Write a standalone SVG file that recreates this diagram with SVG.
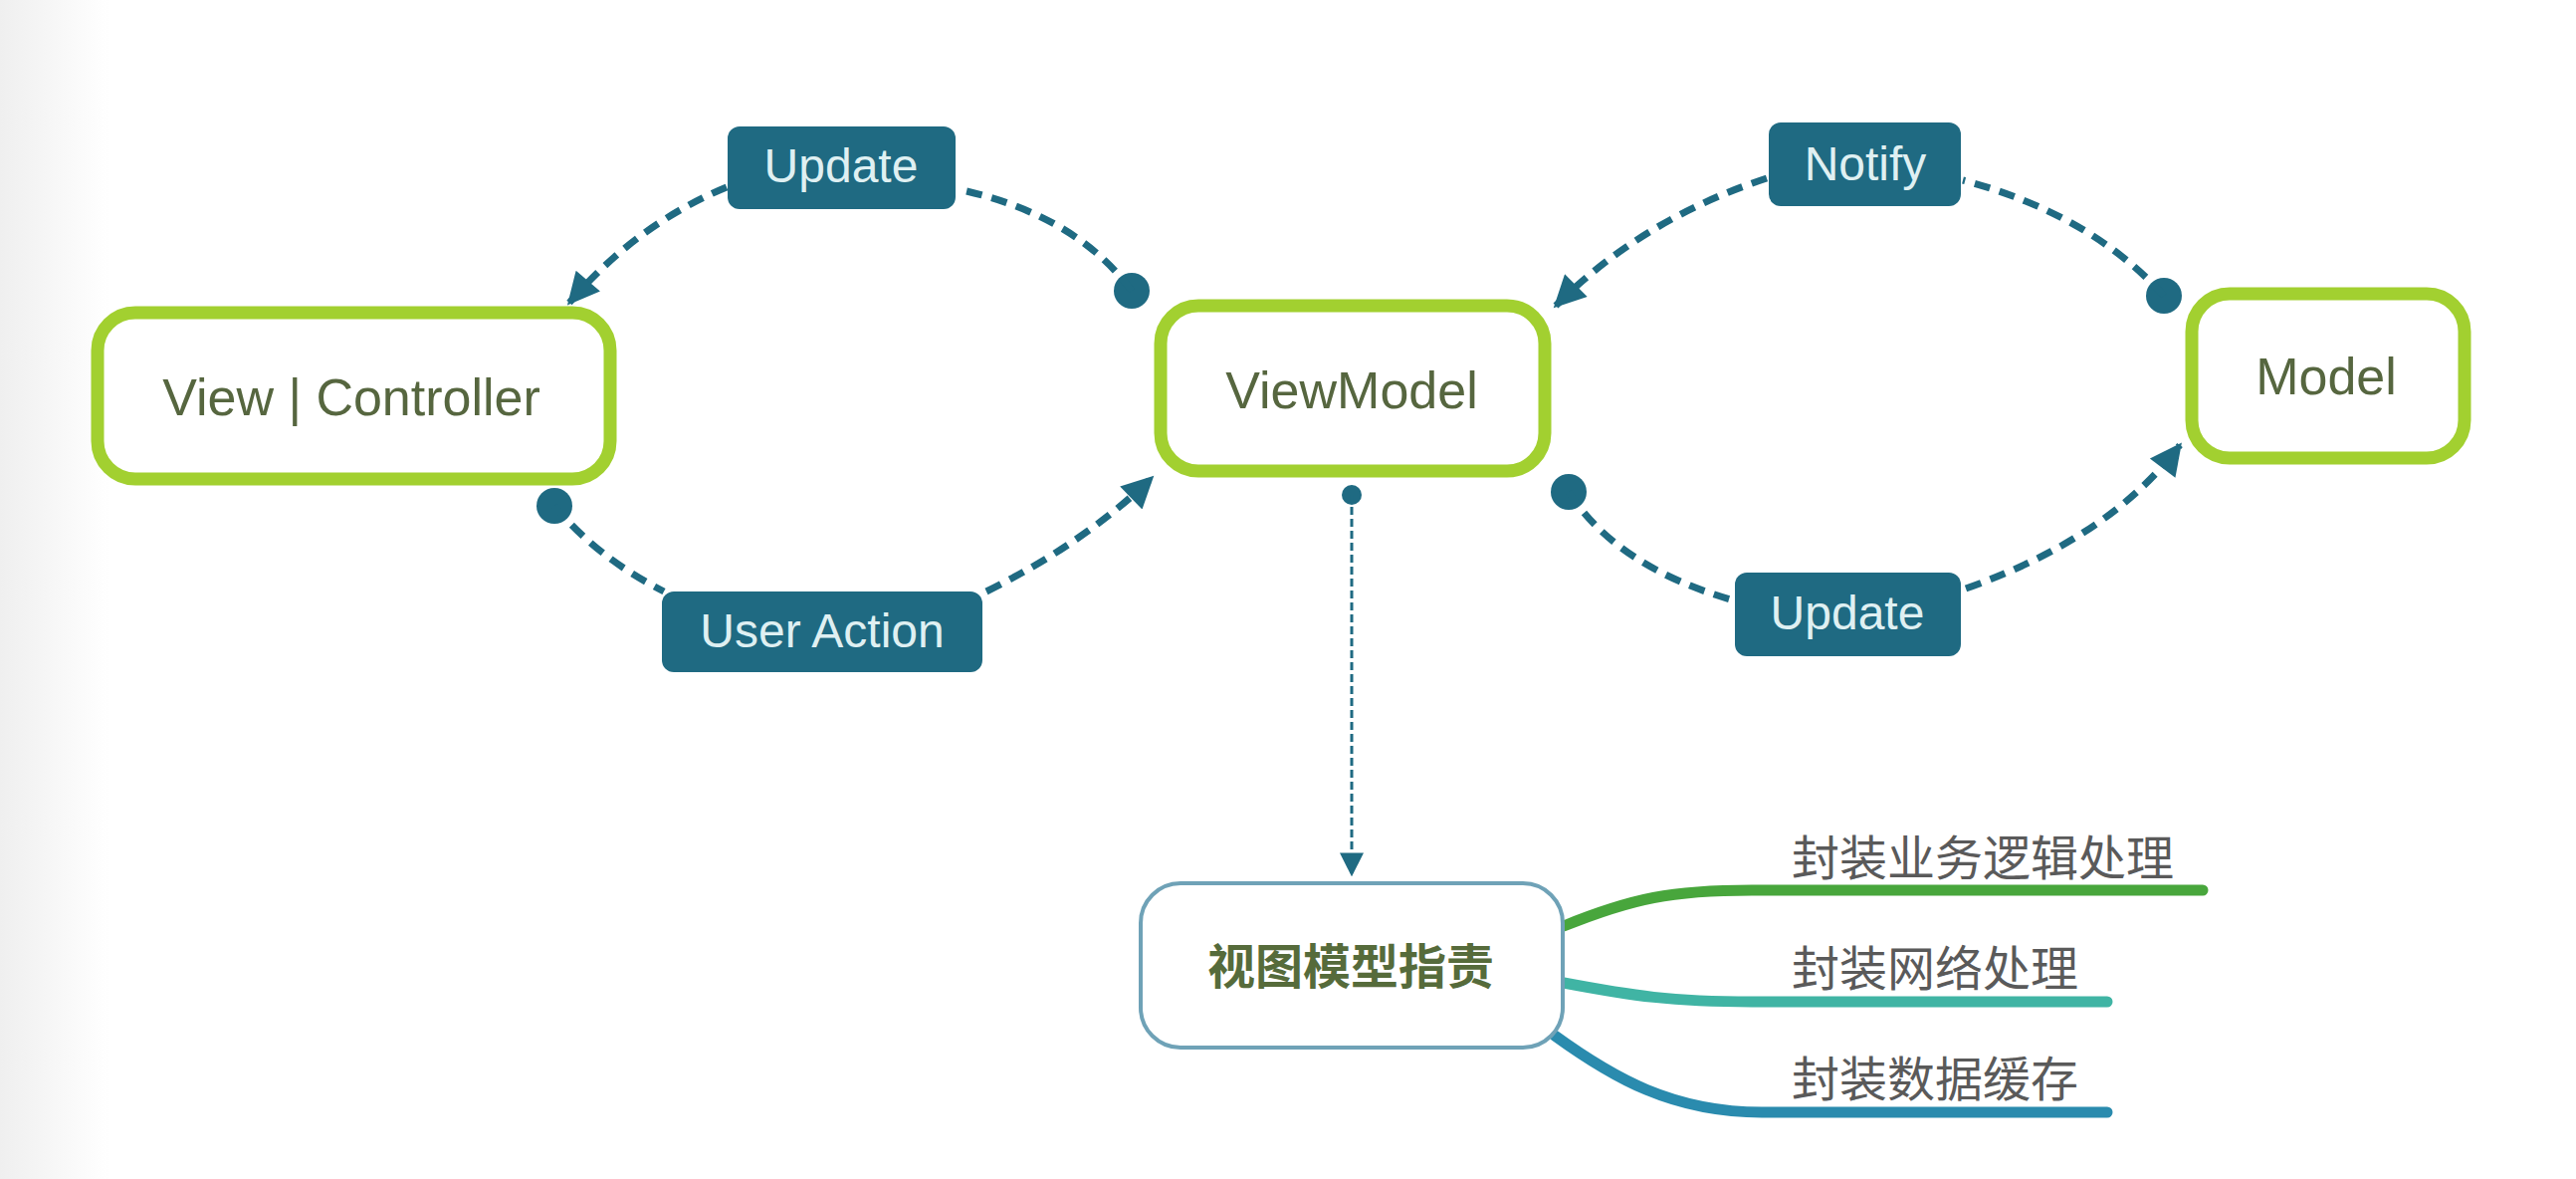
<svg xmlns="http://www.w3.org/2000/svg" width="2588" height="1184" viewBox="0 0 2588 1184">
  <defs>
    <linearGradient id="edge" x1="0" y1="0" x2="1" y2="0">
      <stop offset="0" stop-color="#efefef"/>
      <stop offset="1" stop-color="#ffffff"/>
    </linearGradient>
    <marker id="arrow" viewBox="0 0 10 10" refX="9" refY="5" markerWidth="36" markerHeight="32" markerUnits="userSpaceOnUse" orient="auto">
      <path d="M0,0 L10,5 L0,10 Z" fill="#1f6a82"/>
    </marker>
    <marker id="arrowSmall" viewBox="0 0 10 10" refX="9" refY="5" markerWidth="24" markerHeight="28" markerUnits="userSpaceOnUse" orient="auto">
      <path d="M0,0 L10,5 L0,10 Z" fill="#1f6a82"/>
    </marker>
    <style>
      .node { fill: #ffffff; stroke: #a2d030; stroke-width: 13; }
      .nodeText { font-family: "Liberation Sans", Arial, sans-serif; font-size: 52px; fill: #56663f; text-anchor: middle; }
      .label { fill: #1f6a82; }
      .labelText { font-family: "Liberation Sans", Arial, sans-serif; font-size: 48px; fill: #dff0f2; text-anchor: middle; }
      .conn { fill: none; stroke: #1f6a82; stroke-width: 7; stroke-dasharray: 16 10; }
      .dot { fill: #1f6a82; }
      .cjk { font-family: "Noto Sans CJK SC", "Noto Sans CJK TC", sans-serif; font-size: 48px; fill: #5a5a5a; }
      .branch { fill: none; stroke-width: 11; stroke-linecap: round; }
    </style>
  </defs>

  <rect x="0" y="0" width="2588" height="1184" fill="#ffffff"/>
  <rect x="0" y="0" width="110" height="1184" fill="url(#edge)"/>

  <g id="connectors">
    <!-- ViewModel -> View|Controller (Update) -->
    <circle class="dot" cx="1137" cy="292" r="18"/>
    <path class="conn" d="M1137,292 Q1080,215 962,190"/>
    <path class="conn" d="M730,188 Q640,225 572,304" marker-end="url(#arrow)"/>
    <!-- View|Controller -> ViewModel (User Action) -->
    <circle class="dot" cx="557" cy="508" r="18"/>
    <path class="conn" d="M557,508 Q600,560 667,594"/>
    <path class="conn" d="M991,594 Q1090,545 1157,480" marker-end="url(#arrow)"/>
    <!-- Model -> ViewModel (Notify) -->
    <circle class="dot" cx="2174" cy="297" r="18"/>
    <path class="conn" d="M2174,297 Q2100,215 1972,181"/>
    <path class="conn" d="M1775,179 Q1650,220 1563,307" marker-end="url(#arrow)"/>
    <!-- ViewModel -> Model (Update) -->
    <circle class="dot" cx="1576" cy="494" r="18"/>
    <path class="conn" d="M1576,494 Q1625,570 1742,603"/>
    <path class="conn" d="M1975,591 Q2120,540 2190,447" marker-end="url(#arrow)"/>
    <!-- ViewModel -> responsibilities -->
    <circle class="dot" cx="1358" cy="497" r="10"/>
    <path d="M1358,497 L1358,878" fill="none" stroke="#1f6a82" stroke-width="3" stroke-dasharray="8 4" marker-end="url(#arrowSmall)"/>
    <!-- branches -->
    <path class="branch" stroke="#48a63c" d="M1571,930 C1640,902 1680,894 1760,894 L2213,894"/>
    <path class="branch" stroke="#40b4a4" d="M1571,987 C1640,1000 1680,1006 1760,1006 L2117,1006"/>
    <path class="branch" stroke="#2a8bae" d="M1562,1040 C1620,1082 1680,1117 1770,1117 L2117,1117"/>
  </g>

  <g id="label-update-top">
    <rect class="label" x="731" y="127" width="229" height="83" rx="12"/>
    <text class="labelText" x="845" y="183">Update</text>
  </g>
  <g id="label-user-action">
    <rect class="label" x="665" y="594" width="322" height="81" rx="12"/>
    <text class="labelText" x="826" y="650">User Action</text>
  </g>
  <g id="label-notify">
    <rect class="label" x="1777" y="123" width="193" height="84" rx="12"/>
    <text class="labelText" x="1874" y="181">Notify</text>
  </g>
  <g id="label-update-bottom">
    <rect class="label" x="1743" y="575" width="227" height="84" rx="12"/>
    <text class="labelText" x="1856" y="632">Update</text>
  </g>

  <g id="node-view-controller">
    <rect class="node" x="98" y="314" width="515" height="167" rx="38"/>
    <text class="nodeText" x="353" y="417">View | Controller</text>
  </g>
  <g id="node-viewmodel">
    <rect class="node" x="1166" y="307" width="386" height="166" rx="38"/>
    <text class="nodeText" x="1358" y="410">ViewModel</text>
  </g>
  <g id="node-model">
    <rect class="node" x="2202" y="295" width="274" height="165" rx="38"/>
    <text class="nodeText" x="2337" y="396">Model</text>
  </g>

  <g id="node-responsibilities">
    <rect x="1146" y="887" width="424" height="165" rx="40" fill="#ffffff" stroke="#6fa2b7" stroke-width="4"/>
    <text x="1357" y="988" text-anchor="middle" font-family="'Noto Sans CJK SC', 'Noto Sans CJK TC', sans-serif" font-size="48" font-weight="bold" fill="#566b3b">视图模型指责</text>
  </g>

  <g id="branch-texts">
    <text class="cjk" x="1800" y="879">封装业务逻辑处理</text>
    <text class="cjk" x="1800" y="990">封装网络处理</text>
    <text class="cjk" x="1800" y="1101">封装数据缓存</text>
  </g>
</svg>
